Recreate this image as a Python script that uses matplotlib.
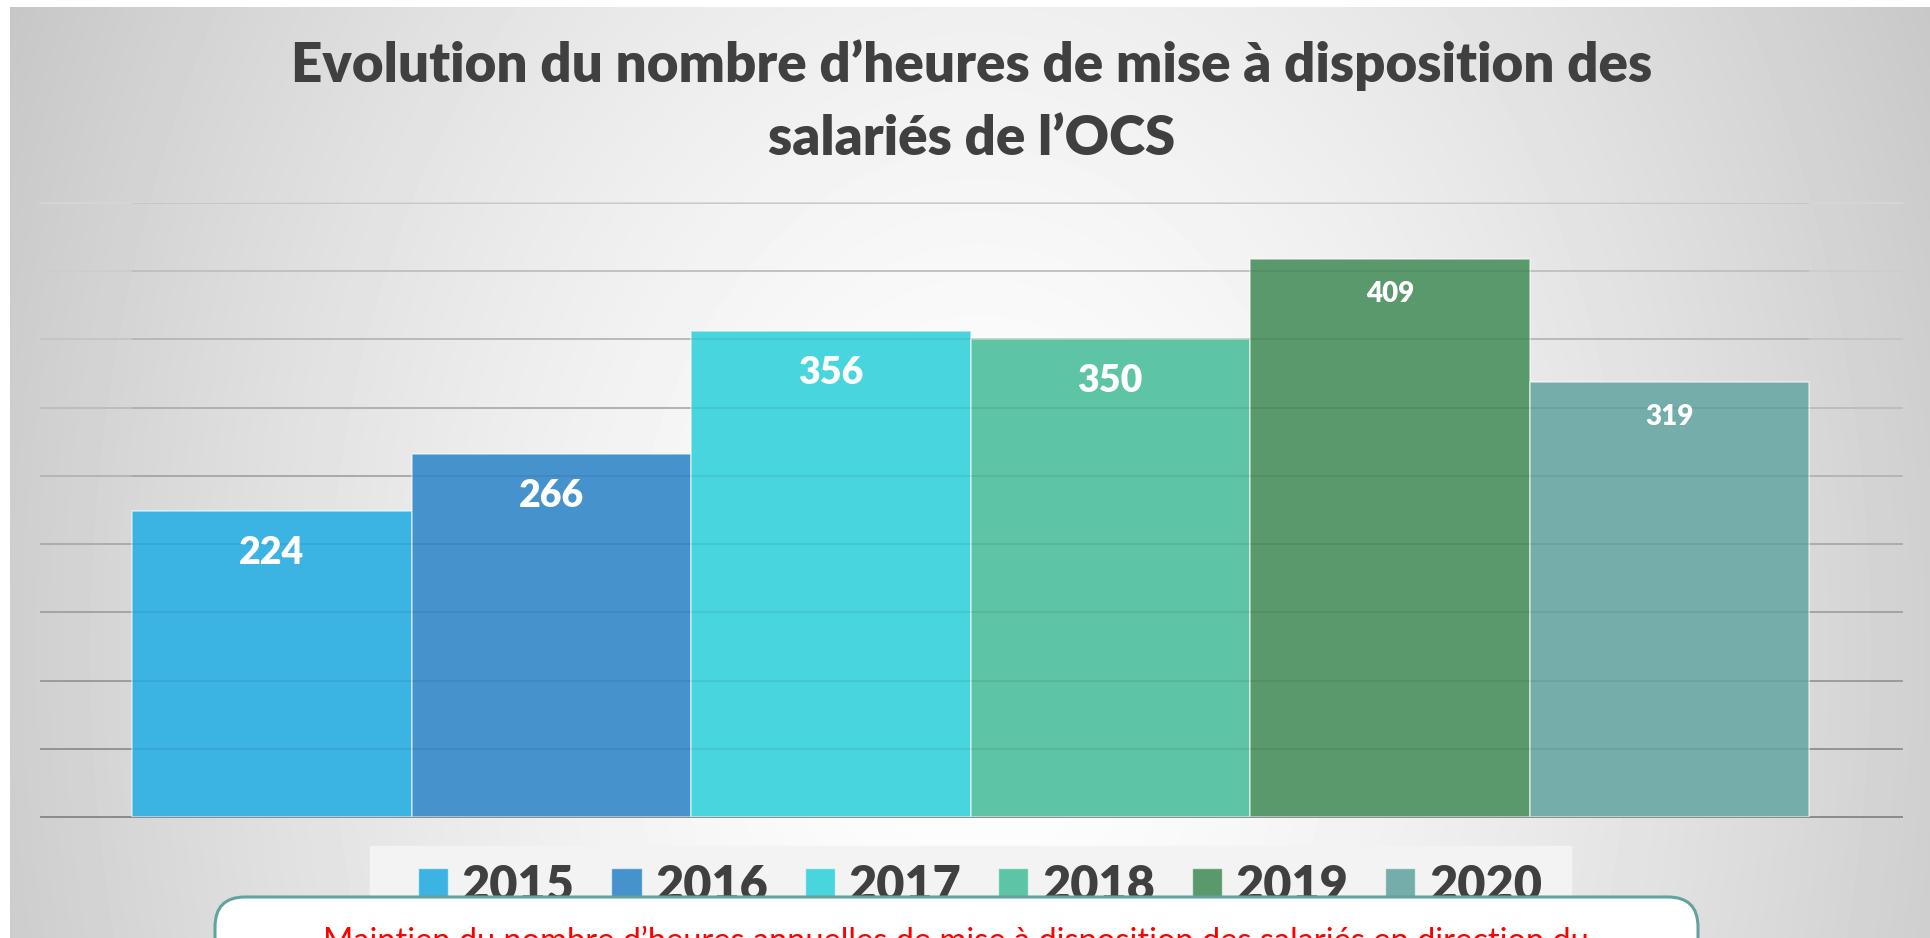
import numpy as np
import matplotlib.pyplot as plt
from matplotlib.patches import FancyBboxPatch, Patch, Rectangle

# data
years = ['2015', '2016', '2017', '2018', '2019', '2020']
heures = [224, 266, 356, 350, 409, 319]
colors = ['#3bb3e3', '#4592cc', '#49d5de', '#5dc4a6', '#5a996b', '#75adaa']
label_sizes = [27, 27, 27, 27, 20, 20]
label_offsets = [-38, -38, -38, -38, -31, -31]
grid_levels = np.arange(0, 451, 50)

title_1 = 'Evolution du nombre d’heures de mise à disposition des'
title_2 = 'salariés de l’OCS'
note = 'Maintien du nombre d’heures annuelles de mise à disposition des salariés en direction du'

W, H = 1931, 938
fig = plt.figure(figsize=(W / 100, H / 100), dpi=100)

# gradient background (pixel coords)
bg = fig.add_axes([0, 0, 1, 1], zorder=0)
yy, xx = np.mgrid[0:H, 0:W]
r = np.sqrt(((xx - 980) / 1000.0) ** 2 + ((yy - 650) / 1400.0) ** 2)
shade = np.clip(1 - 0.2 * r ** 1.5, 0, 1)
shade[:7, :] = 1
shade[:, :10] = 1
bg.imshow(shade, cmap='gray', vmin=0, vmax=1, extent=(0, W, H, 0),
          aspect='auto', interpolation='bilinear')
bg.add_patch(Rectangle((370, 846), 1201, 120, color='#f3f3f3'))
bg.set_xlim(0, W)
bg.set_ylim(H, 0)
bg.axis('off')

# bar chart
ax = fig.add_axes([41 / W, 1 - 817 / H, (1902 - 41) / W, (817 - 203) / H], zorder=1)
ax.patch.set_alpha(0)
x = np.arange(len(years))
for lvl, g in zip(grid_levels, np.linspace(0.52, 0.84, len(grid_levels))):
    ax.axhline(lvl, color=str(g), lw=1.3, zorder=0, clip_on=False)

ax.bar(x, heures, width=1.0, color=colors, edgecolor=(1, 1, 1, 0.55),
       linewidth=1.2, zorder=2)
ax.hlines(grid_levels[1:], -0.5, 5.5, color='black', alpha=0.07, lw=1.3, zorder=3)

for xi, v, fs, off in zip(x, heures, label_sizes, label_offsets):
    ax.annotate(str(v), (xi, v), xytext=(0, off), textcoords='offset points',
                ha='center', va='baseline', fontsize=fs, fontweight='heavy',
                color='white', family='Lato', zorder=4)

ax.set_xlim(-0.8256, 5.8327)
ax.set_ylim(0, 450)
ax.axis('off')

handles = [Patch(facecolor=c, edgecolor=(1, 1, 1, 0.6), lw=1) for c in colors]
leg = ax.legend(handles, years, ncol=6, loc='upper center',
                bbox_to_anchor=(980 / W, 1 - 864 / H), bbox_transform=fig.transFigure,
                frameon=False, prop={'family': 'Lato', 'weight': 'heavy', 'size': 35},
                handlelength=0.62, handleheight=0.62, handletextpad=0.28,
                columnspacing=0.76, borderpad=0, borderaxespad=0)
for t in leg.get_texts():
    t.set_color('#404040')

# overlay: title and note box
ov = fig.add_axes([0, 0, 1, 1], zorder=2)
ov.patch.set_alpha(0)
ov.set_xlim(0, W)
ov.set_ylim(H, 0)
ov.axis('off')

ov.text(972, 82, title_1, ha='center', va='baseline', fontsize=39.3,
        fontweight='heavy', color='#404040', family='Lato')
ov.text(972, 155, title_2, ha='center', va='baseline', fontsize=39.3,
        fontweight='heavy', color='#404040', family='Lato')

box = FancyBboxPatch((215, 897), 1698 - 215, 300,
                     boxstyle='round,pad=0,rounding_size=30',
                     facecolor='white', edgecolor='#62a39f', lw=2.2)
ov.add_patch(box)
ov.text(956, 926, note, ha='center', va='top', color='red', fontsize=23.5,
        family='Lato')

fig.savefig('out.png', dpi=100)
